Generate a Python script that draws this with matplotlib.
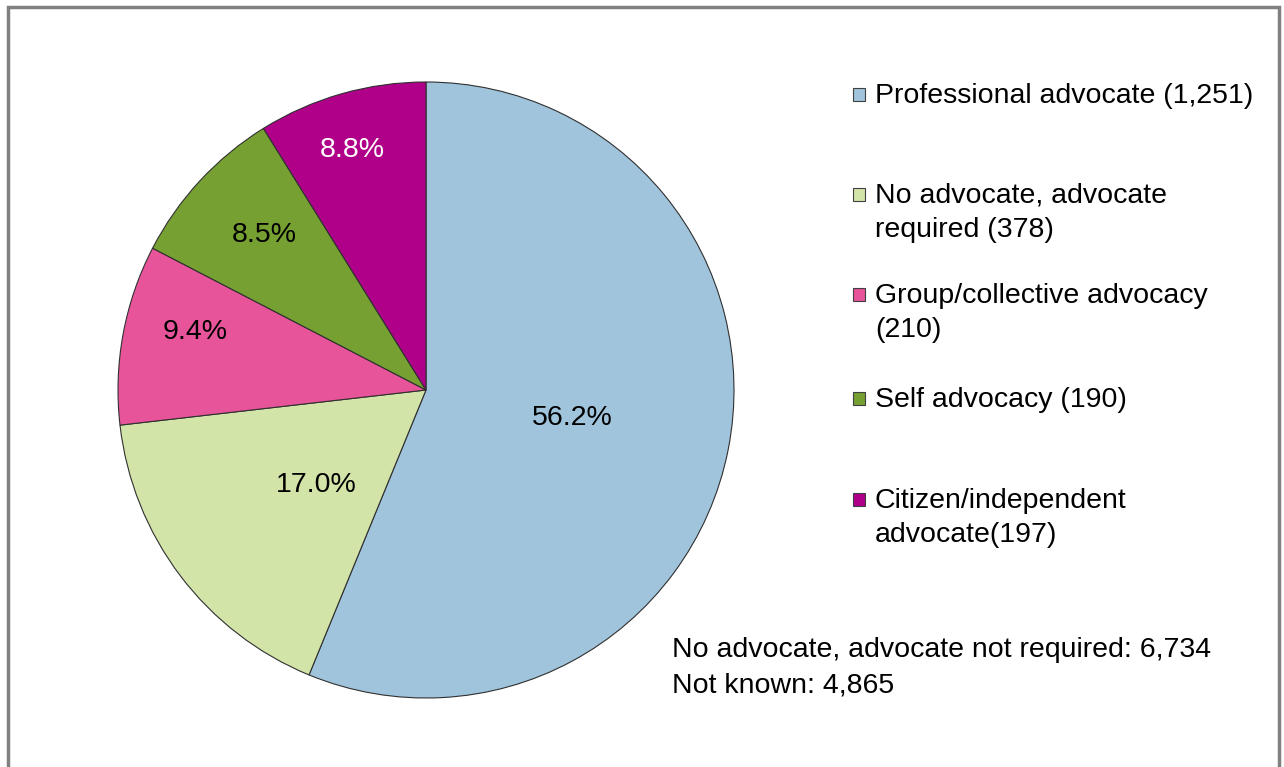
import numpy as np
import matplotlib.pyplot as plt
from matplotlib.patches import Rectangle

plt.rcParams['font.family'] = ['Liberation Sans', 'DejaVu Sans']

labels = ['Professional advocate (1,251)',
          'No advocate, advocate\nrequired (378)',
          'Group/collective advocacy\n(210)',
          'Self advocacy (190)',
          'Citizen/independent\nadvocate(197)']
counts = [1251, 378, 210, 190, 197]
colors = ['#A0C4DC', '#D2E4A8', '#E8549A', '#76A032', '#B0008A']
pct_colors = ['black', 'black', 'black', 'black', 'white']
note_lines = ['No advocate, advocate not required: 6,734', 'Not known: 4,865']

# where Excel put each % label: distance from centre (x radius) and angle nudge (deg)
pct_dist = [0.483, 0.472, 0.773, 0.726, 0.816]
pct_nudge = [0.3, 3.7, -3.6, -1.0, 1.2]

W, H = 1284, 767
FS = 20.5
cx, cy, r = 426, H - 390, 308

fig = plt.figure(figsize=(W / 100, H / 100), dpi=100)
ax = fig.add_axes([0, 0, 1, 1])

# outer frame
ax.add_patch(Rectangle((8, -20), 1271, H - 7 + 20, fill=False, edgecolor='#808080', linewidth=2.5))

wedges, texts, autotexts = ax.pie(counts, colors=colors, startangle=90, counterclock=False,
                                  center=(cx, cy), radius=r, autopct='%1.1f%%',
                                  wedgeprops=dict(edgecolor='#303030', linewidth=0.8),
                                  textprops=dict(fontsize=FS), frame=True)
ax.set_xlim(0, W)
ax.set_ylim(0, H)
ax.set_aspect('equal')
ax.axis('off')

for w, t, d, n, c in zip(wedges, autotexts, pct_dist, pct_nudge, pct_colors):
    ang = np.deg2rad((w.theta1 + w.theta2) / 2 + n)
    t.set_position((cx + d * r * np.cos(ang), cy + d * r * np.sin(ang)))
    t.set_color(c)

# legend drawn by hand so entries are evenly spaced (Excel style)
leg_base = [103, 203, 303, 407, 508]
for lab, col, yb in zip(labels, colors, leg_base):
    ax.add_patch(Rectangle((853, H - yb + 2), 12, 13, facecolor=col, edgecolor='#404040', linewidth=0.8))
    for j, ln in enumerate(lab.split('\n')):
        ax.text(875, H - yb - j * 34, ln, fontsize=FS, va='baseline', ha='left')

for i, line in enumerate(note_lines):
    ax.text(672, H - 657 - i * 35, line, fontsize=FS, va='baseline', ha='left')

fig.savefig('out.png', dpi=100)
